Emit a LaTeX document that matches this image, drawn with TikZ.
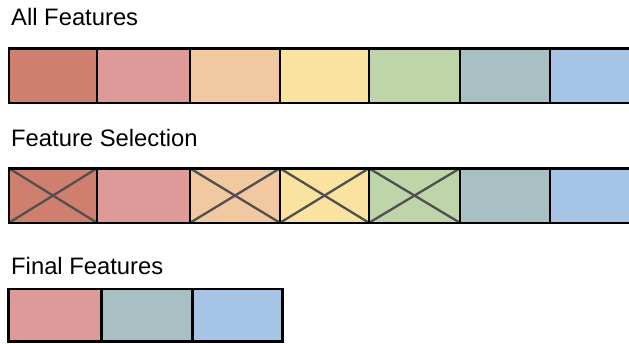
\documentclass[tikz,border=0pt]{standalone}
\usepackage{fontspec}
\setmainfont{Liberation Sans}
\definecolor{cA}{HTML}{CF7F6D}
\definecolor{cB}{HTML}{DD9A98}
\definecolor{cC}{HTML}{F0C9A0}
\definecolor{cD}{HTML}{FAE29F}
\definecolor{cE}{HTML}{BDD5A8}
\definecolor{cF}{HTML}{A8C0C4}
\definecolor{cG}{HTML}{A6C4E6}
\definecolor{crossgray}{HTML}{505050}
\begin{document}
\begin{tikzpicture}[x=1pt,y=-1pt,
  cell/.style={draw=black,line width=2.6pt,inner sep=0pt,outer sep=0pt,anchor=north west,minimum height=#1},
  cell/.default=54.5pt,
  title/.style={anchor=base west,inner sep=0pt,font=\fontsize{23.8}{28}\selectfont},
  cross/.style={draw=crossgray,line width=2.3pt}]
\useasboundingbox (0,0) rectangle (629,343);
\clip (0,0) rectangle (629,343);

% row titles
\node[title] (t1) at (11,25) {All Features};
\node[title] (t2) at (11,146) {Feature Selection};
\node[title] (t3) at (11,274) {Final Features};

% all features
\node[cell,fill=cA,minimum width=88pt] (a1) at (9,48.3) {};
\node[cell,fill=cB,minimum width=93pt] (a2) at (97,48.3) {};
\node[cell,fill=cC,minimum width=90pt] (a3) at (190,48.3) {};
\node[cell,fill=cD,minimum width=89pt] (a4) at (280,48.3) {};
\node[cell,fill=cE,minimum width=91pt] (a5) at (369,48.3) {};
\node[cell,fill=cF,minimum width=90pt] (a6) at (460,48.3) {};
\node[cell,fill=cG,minimum width=90pt] (a7) at (550,48.3) {};

% feature selection
\node[cell,fill=cA,minimum width=88pt] (s1) at (9,168.3) {};
\node[cell,fill=cB,minimum width=93pt] (s2) at (97,168.3) {};
\node[cell,fill=cC,minimum width=90pt] (s3) at (190,168.3) {};
\node[cell,fill=cD,minimum width=89pt] (s4) at (280,168.3) {};
\node[cell,fill=cE,minimum width=91pt] (s5) at (369,168.3) {};
\node[cell,fill=cF,minimum width=90pt] (s6) at (460,168.3) {};
\node[cell,fill=cG,minimum width=90pt] (s7) at (550,168.3) {};

% removed features are crossed out
\foreach \n in {s1,s3,s4,s5}{
  \draw[cross] (\n.north west) -- (\n.south east);
  \draw[cross] (\n.south west) -- (\n.north east);
}
% redraw the borders over the crosses
\foreach \n in {s1,s2,s3,s4,s5,s6,s7}{
  \draw[black,line width=2.6pt] (\n.north west) rectangle (\n.south east);
}

% final features
\node[cell=52.7pt,fill=cB,minimum width=93.4pt] (f1) at (8.3,289) {};
\node[cell=52.7pt,fill=cF,minimum width=90.6pt] (f2) at (101.7,289) {};
\node[cell=52.7pt,fill=cG,minimum width=90.4pt] (f3) at (192.3,289) {};
\end{tikzpicture}
\end{document}
